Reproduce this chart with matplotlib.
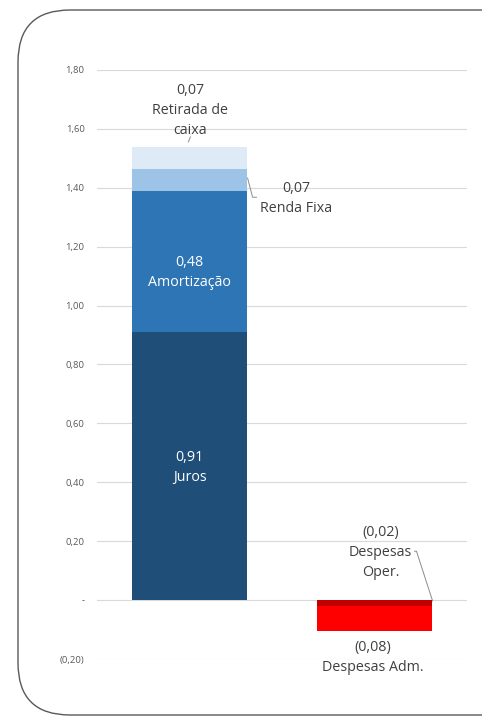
import matplotlib
matplotlib.use("Agg")
import matplotlib.pyplot as plt
from matplotlib.patches import FancyBboxPatch

plt.rcParams['font.family'] = ['Open Sans', 'DejaVu Sans']

# Data
positions = [0, 1]
juros = [0.912, 0]
amortizacao = [0.477, 0]
renda_fixa = [0.076, 0]
retirada = [0.075, 0]
desp_oper = [0, -0.020]
desp_adm = [0, -0.085]

yticks = [-0.2, 0, 0.2, 0.4, 0.6, 0.8, 1.0, 1.2, 1.4, 1.6, 1.8]
yticklabels = ['(0,20)', '-', '0,20', '0,40', '0,60', '0,80', '1,00', '1,20', '1,40', '1,60', '1,80']

c_juros = '#1F4E79'
c_amort = '#2E75B6'
c_renda = '#9DC3E6'
c_ret = '#DEEBF7'
c_oper = '#C00000'
c_adm = '#FF0000'

fig = plt.figure(figsize=(4.82, 7.16), dpi=100)

# background frame
bg = fig.add_axes([0, 0, 1, 1], zorder=0)
bg.set_xlim(0, 482)
bg.set_ylim(716, 0)
bg.axis('off')
bg.add_patch(FancyBboxPatch((18, 10), 520, 705, boxstyle="round,pad=0,rounding_size=52",
                            fc='white', ec='#595959', lw=1.0))

ax = fig.add_axes([97/482, 1-659/716, 370/482, (659-70)/716], zorder=1)
ax.patch.set_alpha(0)

w = 0.627
b = [0, 0]
ax.bar(positions, juros, w, bottom=b, color=c_juros, zorder=2)
b = [b[i] + juros[i] for i in range(2)]
ax.bar(positions, amortizacao, w, bottom=b, color=c_amort, zorder=2)
b = [b[i] + amortizacao[i] for i in range(2)]
ax.bar(positions, renda_fixa, w, bottom=b, color=c_renda, zorder=2)
b = [b[i] + renda_fixa[i] for i in range(2)]
ax.bar(positions, retirada, w, bottom=b, color=c_ret, zorder=2)
ax.bar(positions, desp_oper, w, color=c_oper, zorder=2)
ax.bar(positions, desp_adm, w, bottom=desp_oper, color=c_adm, zorder=2)

ax.set_xlim(-0.5, 1.5)
ax.set_ylim(-0.2, 1.8)
ax.set_yticks(yticks)
ax.set_yticklabels(yticklabels, fontsize=6.8, color='#595959')
ax.tick_params(axis='y', length=0, pad=9)
ax.set_xticks([])
for s in ax.spines.values():
    s.set_visible(False)
ax.grid(axis='y', color='#D9D9D9', lw=0.8, zorder=0)
ax.set_axisbelow(True)

fs = 10.3
tc = '#404040'
ls = 1.45
ax.text(0, 0.450, '0,91\nJuros', ha='center', va='center', color='white', fontsize=fs, linespacing=ls, zorder=3)
ax.text(0, 1.111, '0,48\nAmortização', ha='center', va='center', color='white', fontsize=fs, linespacing=ls, zorder=3)
ax.text(0.578, 1.365, '0,07\nRenda Fixa', ha='center', va='center', color=tc, fontsize=fs, linespacing=ls, zorder=3)
ax.text(0.005, 1.662, '0,07\nRetirada de\ncaixa', ha='center', va='center', color=tc, fontsize=fs, linespacing=ls, zorder=3)
ax.text(1.032, 0.163, '(0,02)\nDespesas\nOper.', ha='center', va='center', color=tc, fontsize=fs, linespacing=ls, zorder=3)
ax.text(0.99, -0.194, '(0,08)\nDespesas Adm.', ha='center', va='center', color=tc, fontsize=fs, linespacing=ls, zorder=3)

# leader lines
lc = '#8C8C8C'
ax.plot([0.314, 0.341, 0.362], [1.433, 1.368, 1.368], color=lc, lw=0.7, zorder=3)
ax.plot([0.005, -0.006], [1.573, 1.556], color=lc, lw=0.7, zorder=3)
ax.plot([1.216, 1.227, 1.314], [0.166, 0.166, -0.003], color=lc, lw=0.7, zorder=3)

fig.savefig('out.png', dpi=100)
